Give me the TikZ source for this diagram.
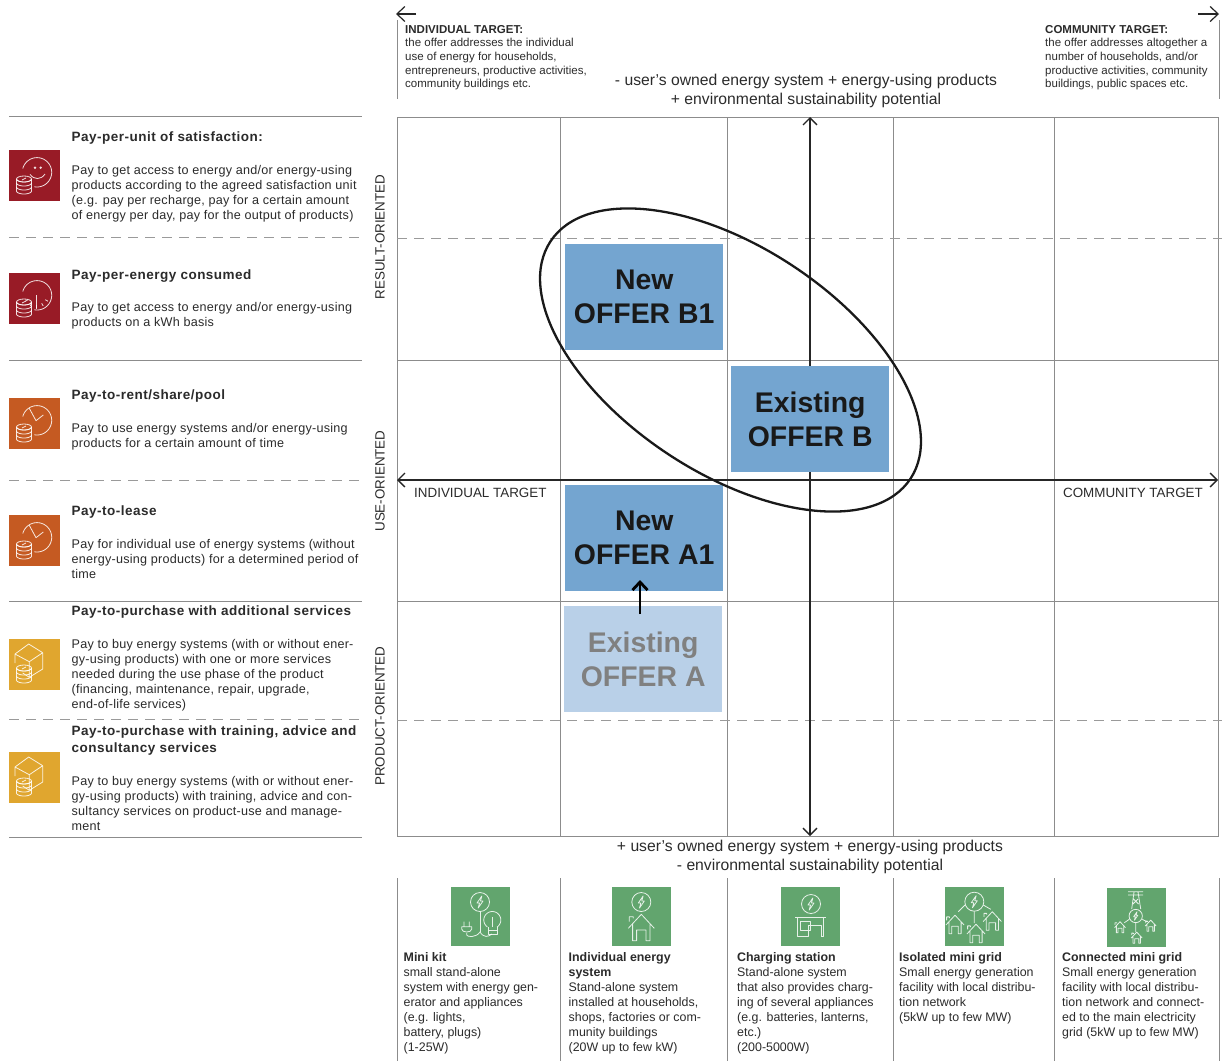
\documentclass[tikz,border=0pt]{standalone}
\usepackage{fontspec}
\setmainfont{Liberation Sans}
\usetikzlibrary{arrows.meta}
\definecolor{gridc}{HTML}{8C8C8C}
\definecolor{dashc}{HTML}{9A9A9A}
\definecolor{txt}{HTML}{2B2B2B}
\definecolor{redc}{HTML}{981B26}
\definecolor{orc}{HTML}{C55A22}
\definecolor{yelc}{HTML}{E0A62F}
\definecolor{grnc}{HTML}{62A56E}
\definecolor{blu}{HTML}{74A5D0}
\definecolor{lblu}{HTML}{B9D0E8}
\newcommand\ringarc[5]{\draw[sym] plot[domain=#4:#5,samples=40,smooth] ({#1+#3*cos(\x)},{#2+#3*sin(\x)});}
\tikzset{x=1pt,y=-1pt,
 solidl/.style={draw=gridc,line width=0.9pt},
 dashl/.style={draw=dashc,line width=0.9pt,dash pattern=on 10pt off 7pt},
 head/.style={anchor=north west,inner sep=0pt,font=\fontsize{13.5}{16.5}\selectfont\addfontfeature{LetterSpace=3.6}\bfseries,text=txt,align=left},
 body/.style={anchor=north west,inner sep=0pt,font=\fontsize{12.6}{15}\selectfont\addfontfeature{LetterSpace=1.9},text=txt,align=left},
 icon/.style={minimum size=51pt,inner sep=0pt,line width=0pt,anchor=north west},
 gicon/.style={minimum size=59pt,inner sep=0pt,fill=grnc,anchor=north west},
 offer/.style={anchor=north west,inner sep=0pt,align=center,font=\fontsize{28.4}{34}\selectfont\bfseries,text=black!90,fill=blu,minimum width=158pt,minimum height=106pt},
 small/.style={anchor=north west,inner sep=0pt,font=\fontsize{11.5}{13.6}\selectfont,text=txt,align=left},
 btext/.style={anchor=north west,inner sep=0pt,font=\fontsize{12.4}{15}\selectfont,text=txt,align=left},
 sym/.style={draw=white,draw opacity=.85,line width=0.8pt,fill=none,line join=round},
 axlab/.style={font=\fontsize{13.4}{16}\selectfont,text=txt,inner sep=0pt},
 center14/.style={font=\fontsize{15.7}{19}\selectfont,text=txt,align=center,inner sep=0pt},
 arr/.style={draw=black!85,line width=1.3pt,{Straight Barb[length=7pt,width=14pt]}-{Straight Barb[length=7pt,width=14pt]}},
 rarr/.style={draw=black!85,line width=1.2pt,-{Straight Barb[length=8pt,width=15pt]}},
 coins/.pic={\draw[sym] (15,29) ellipse (7.5 and 3);
   \foreach \yy in {29,33,37,41}{\draw[sym] plot[domain=0:180,samples=15,smooth] ({15+7.5*cos(\x)},{\yy+3*sin(\x)});}
   \draw[sym] (7.5,29)--(7.5,41) (22.5,29)--(22.5,41) (13,30)--(17,28);},
 bolt/.pic={\draw[sym] (0,0) circle (9.5);\draw[sym] (1.8,-6)--(-3,1)--(-.5,1)--(-1.8,6)--(3,-1)--(.5,-1)--cycle;},
 house/.pic={\draw[sym] (-13,0)--(0,-14)--(13,0) (-8.7,-4)--(-8.7,12.4)--(-4.7,12.4)--(-4.7,1.7)--(4.7,1.7)--(4.7,12.4)--(8.7,12.4)--(8.7,-4) (-12,-6.6)--(-12,-11.6)--(-8,-11.6)--(-8,-10);},
 boxicon/.pic={\draw[sym] (15,15)--(28.7,5)--(42.7,13.7)--(29.3,22.7)--cycle (29.3,22.7)--(29.3,38.3)--(42.7,30)--(42.7,13.7) (15,15)--(15,24) (29.3,38.3)--(22.7,34);},
 ringicon/.pic={\ringarc{28}{22.3}{14.7}{-165}{100}},
}
\begin{document}
\begin{tikzpicture}
\useasboundingbox (0,0) rectangle (1222,1061);
\fill[white] (0,0) rectangle (1222,1061);
% grid
\draw[solidl] (397,117) rectangle (1218,836);
\foreach \gx in {560,727,893,1054}{\draw[solidl] (\gx,117)--(\gx,836);}
\draw[solidl] (397,360)--(1218,360);
\draw[solidl] (397,601)--(1218,601);
\draw[dashl] (397,238)--(1222,238);
\draw[dashl] (397,720)--(1222,720);
% axes
\coordinate (axl) at (397,480);\coordinate (axr) at (1218,480);
\coordinate (ayt) at (810,117);\coordinate (ayb) at (810,836);
\draw[arr] (axl)--(axr);
\draw[arr] (ayt)--(ayb);
% offers
\node[offer] (b1) at (565,244) {New\\OFFER B1};
\node[offer] (bx) at (731,366) {Existing\\OFFER B};
\node[offer] (a1) at (565,485) {New\\OFFER A1};
\node[offer,fill=lblu,text=black!50] (ax) at (564,606) {Existing\\OFFER A};
\node[axlab,anchor=west] (il) at (414,493) {INDIVIDUAL TARGET};
\node[axlab,anchor=east] (cl) at (1203,493) {COMMUNITY TARGET};
\coordinate (as) at (640,614);\coordinate (ae) at (640,580);
\draw[draw=black,line width=2.8pt,-{Straight Barb[length=8pt,width=15pt]}] (as)--(ae);
\draw[black!90,line width=2.3pt,rotate around={-33.4:(730.5,360)}] (730.5,360) ellipse (215.6 and 112.9);
% left rules
\draw[solidl] (9,116)--(362,116);
\draw[dashl] (9,237)--(362,237);
\draw[solidl] (9,360)--(362,360);
\draw[dashl] (9,480)--(362,480);
\draw[solidl] (9,601)--(362,601);
\draw[dashl] (9,719)--(362,719);
\draw[solidl] (9,837)--(362,837);
% left icons
\node[icon,fill=redc] (i1) at (9,150) {};
\node[icon,fill=redc] (i2) at (9,273) {};
\node[icon,fill=orc] (i3) at (9,398) {};
\node[icon,fill=orc] (i4) at (9,515) {};
\node[icon,fill=yelc] (i5) at (9,639) {};
\node[icon,fill=yelc] (i6) at (9,752) {};
\foreach \iy in {150,273,398,515}{\pic at (9,\iy) {ringicon};}
\foreach \iy in {150,273,398,515,639,752}{\pic at (9,\iy) {coins};}
\foreach \iy in {639,752}{\pic at (0,\iy) {boxicon};}
% face
\fill[white,opacity=.85] (35,167.7) circle (1.3) (40.7,167.7) circle (1.3);
\draw[sym] (30,174.3) .. controls (34,180) and (41,180) .. (45,174);
% gauge
\foreach \a in {-150,-120,-90,-60,-30}{\draw[sym] (36.7,294.7)++(\a:-13)--++(\a:3);}
\draw[sym] (36,295)--(36,309);
% clocks
\foreach \iy in {398,515}{\draw[sym] (29.3,\iy+10.3)--(36,\iy+22.7)--(43.3,\iy+17);}
% left texts
\node[head] (h1) at (71.5,132) {Pay-per-unit of satisfaction:};
\node[body] (t1) at (71.5,165) {Pay to get access to energy and/or energy-using\\products according to the agreed satisfaction unit\\(e.g. pay per recharge, pay for a certain amount\\of energy per day, pay for the output of products)};
\node[head] (h2) at (71.5,270) {Pay-per-energy consumed};
\node[body] (t2) at (71.5,302) {Pay to get access to energy and/or energy-using\\products on a kWh basis};
\node[head] (h3) at (71.5,390) {Pay-to-rent/share/pool};
\node[body] (t3) at (71.5,423) {Pay to use energy systems and/or energy-using\\products for a certain amount of time};
\node[head] (h4) at (71.5,506) {Pay-to-lease};
\node[body] (t4) at (71.5,539) {Pay for individual use of energy systems (without\\energy-using products) for a determined period of\\time};
\node[head] (h5) at (71.5,606) {Pay-to-purchase with additional services};
\node[body] (t5) at (71.5,639) {Pay to buy energy systems (with or without ener-\\gy-using products) with one or more services\\needed during the use phase of the product\\(financing, maintenance, repair, upgrade,\\end-of-life services)};
\node[head] (h6) at (71.5,726) {Pay-to-purchase with training, advice and\\consultancy services};
\node[body] (t6) at (71.5,776) {Pay to buy energy systems (with or without ener-\\gy-using products) with training, advice and con-\\sultancy services on product-use and manage-\\ment};
% rotated
\node[axlab,rotate=90] (r1) at (380,237) {RESULT-ORIENTED};
\node[axlab,rotate=90] (r2) at (380,481) {USE-ORIENTED};
\node[axlab,rotate=90] (r3) at (380,716) {PRODUCT-ORIENTED};
% top
\draw[solidl] (397,20)--(397,99);
\draw[solidl] (1219,20)--(1219,99);
\coordinate (tl1) at (416,14);\coordinate (tl2) at (396,14);
\coordinate (tr1) at (1198,14);\coordinate (tr2) at (1219,14);
\draw[rarr] (tl1)--(tl2);
\draw[rarr] (tr1)--(tr2);
\node[small] (ti) at (405,25) {\textbf{INDIVIDUAL TARGET:}\\the offer addresses the individual\\use of energy for households,\\entrepreneurs, productive activities,\\community buildings etc.};
\node[small] (tc) at (1045,25) {\textbf{COMMUNITY TARGET:}\\the offer addresses altogether a\\number of households, and/or\\productive activities, community\\buildings, public spaces etc.};
\node[center14] (tm) at (806,91) {- user's owned energy system + energy-using products\\+ environmental sustainability potential};
\node[center14] (bm) at (810,857) {+ user's owned energy system + energy-using products\\- environmental sustainability potential};
% bottom columns
\foreach \gx in {397,560,727,893,1054,1219}{\draw[solidl] (\gx,878)--(\gx,1061);}
\node[gicon] (g1) at (451,887) {};
\node[gicon] (g2) at (612,887) {};
\node[gicon] (g3) at (781,887) {};
\node[gicon] (g4) at (945,887) {};
\node[gicon] (g5) at (1107,888) {};
% g1
\pic at (480,902) {bolt};
\draw[sym] (480,911.5)--(480,932);
\draw[sym] (466.7,933)--(466.7,935) .. controls (467,937) and (476,938) .. (480,932) .. controls (484,938) and (488,937) .. (492,934);
\ringarc{492.3}{920}{8.5}{125}{415}
\draw[sym] (488,927)--(488,934)--(497,934)--(497,927) (488,930)--(497,930) (492.5,927)--(492.5,917);
\draw[sym] (461.7,926.7)--(471.7,926.7)--(471.7,929) .. controls (471.7,933) and (461.7,933) .. (461.7,929) --cycle (464,921.7)--(464,926.7) (469.3,921.7)--(469.3,926.7);
% g2
\pic at (641.3,902) {bolt};
\pic at (641.3,928.3) {house};
% g3
\pic at (811,904) {bolt};
\draw[sym] (795,917)--(826,917) (797,917)--(797,936)--(808,936)--(808,925)--(821,925)--(821,936) (800,921)--(810,921)--(810,930)--(800,930)--cycle (823,917)--(823,936)--(821,936);
% g4
\pic at (974.3,901.7) {bolt};
\pic[scale=.7] at (955,925) {house};
\pic[scale=.7] at (992.3,921.5) {house};
\pic[scale=.7] at (976,934) {house};
\draw[sym] (974.3,911.7)--(974.3,923) (965,905)--(958.3,911.7) (983.3,905)--(990.7,909.3);
% g5
\pic[scale=.7] at (1135.7,916) {bolt};
\draw[sym] (1128,891.7)--(1143,891.7) (1128,895)--(1143,895) (1134,892)--(1131.7,909) (1138,892)--(1140.7,909) (1133.5,899)--(1138.5,904) (1138,899)--(1133,904);
\pic[scale=.42] at (1120,927.6) {house};
\pic[scale=.42] at (1150.7,926) {house};
\pic[scale=.42] at (1136.7,938) {house};
\draw[sym] (1135.7,922.7)--(1135.7,932) (1129.3,919.3)--(1124.3,922.7) (1142.3,919.3)--(1146.7,921.7);
% bottom text
\node[btext] (b1t) at (403.5,952) {\textbf{Mini kit}\\small stand-alone\\system with energy gen-\\erator and appliances\\(e.g. lights,\\battery, plugs)\\(1-25W)};
\node[btext] (b2t) at (568.5,952) {\textbf{Individual energy}\\\textbf{system}\\Stand-alone system\\installed at households,\\shops, factories or com-\\munity buildings\\(20W up to few kW)};
\node[btext] (b3t) at (737,952) {\textbf{Charging station}\\Stand-alone system\\that also provides charg-\\ing of several appliances\\(e.g. batteries, lanterns,\\etc.)\\(200-5000W)};
\node[btext] (b4t) at (899,952) {\textbf{Isolated mini grid}\\Small energy generation\\facility with local distribu-\\tion network\\(5kW up to few MW)};
\node[btext] (b5t) at (1062,952) {\textbf{Connected mini grid}\\Small energy generation\\facility with local distribu-\\tion network and connect-\\ed to the main electricity\\grid (5kW up to few MW)};
\end{tikzpicture}
\end{document}
